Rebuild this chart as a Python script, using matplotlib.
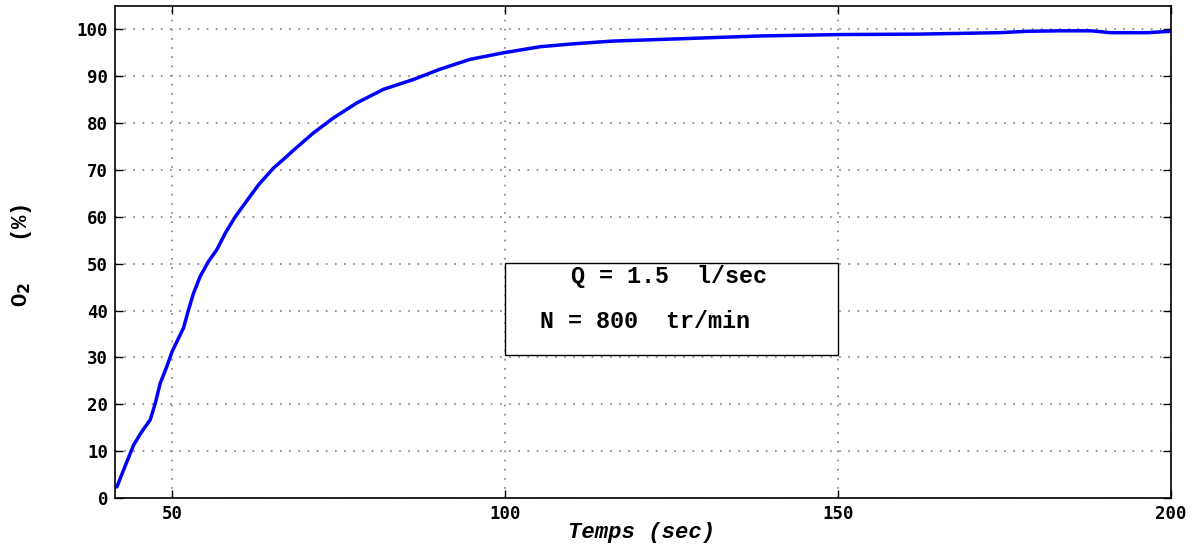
import matplotlib
matplotlib.use('Agg')
import matplotlib.pyplot as plt
from matplotlib.patches import Rectangle

# values
temps = [41.5, 41.7, 42.7, 44.2, 45.45, 46.7, 47.45, 48.2, 49.2, 50, 51.7, 52.45, 53.2,
         54.2, 55.45, 56.7, 58, 59.5, 61.7, 63, 65.2, 67.2, 68.2, 71.2, 74.2, 77.7,
         81.7, 86.2, 90.2, 94.7, 99.7, 105.2, 110, 116, 126.2, 138.2, 150.2, 162.2,
         174.2, 178.4, 183.2, 188, 191, 196.4, 200]
o2 = [2.3, 2.4, 6.0, 11.3, 14.2, 16.7, 20.2, 24.5, 28.1, 31.3, 36.3, 40.2, 43.7,
      47.3, 50.5, 53.0, 56.6, 60.1, 64.4, 66.9, 70.4, 72.9, 74.2, 77.9, 81.1, 84.3,
      87.2, 89.3, 91.5, 93.6, 95.0, 96.3, 96.9, 97.5, 98.0, 98.6, 98.9, 99.0,
      99.3, 99.6, 99.7, 99.7, 99.3, 99.3, 99.6]

x_ticks = [50, 100, 150, 200]
y_ticks = [0, 10, 20, 30, 40, 50, 60, 70, 80, 90, 100]
box_lines = ['Q = 1.5  l/sec', 'N = 800  tr/min']

fig = plt.figure(figsize=(11.95, 5.44), dpi=100)
ax = fig.add_axes([0.0962, 0.0846, 0.8838, 0.9044])

ax.plot(temps, o2, color='#0000ff', linewidth=2.5, solid_joinstyle='round')

ax.set_xlim(41.4, 200)
ax.set_ylim(0, 105)
ax.set_xticks(x_ticks)
ax.set_yticks(y_ticks)
ax.tick_params(direction='in', top=True, right=True, length=6, width=1, pad=5)
for lab in ax.get_xticklabels() + ax.get_yticklabels():
    lab.set_fontfamily('DejaVu Sans Mono')
    lab.set_fontweight('bold')
    lab.set_fontsize(12.5)
ax.grid(True, linestyle=(0, (1, 4.5)), color='#808080', linewidth=1.2)
for s in ax.spines.values():
    s.set_linewidth(1.2)

# axis labels placed in figure coordinates
fig.text(0.537, 0.022, 'Temps (sec)', family='Liberation Mono', fontweight='bold',
         style='italic', fontsize=16, ha='center', va='center')
fig.text(0.018, 0.53, r'O$_{\mathbf{2}}$   (%)', family='Liberation Mono',
         fontweight='bold', fontsize=16, rotation=90, ha='center', va='center')

ax.add_patch(Rectangle((100, 30.5), 50, 19.7, facecolor='white',
                       edgecolor='black', linewidth=1, zorder=3))
ax.text(109.9, 47.3, box_lines[0], family='Liberation Mono', fontweight='bold',
        fontsize=16.8, va='center', ha='left', zorder=4)
ax.text(105.3, 37.6, box_lines[1], family='Liberation Mono', fontweight='bold',
        fontsize=16.8, va='center', ha='left', zorder=4)

fig.savefig('out.png', dpi=100)
